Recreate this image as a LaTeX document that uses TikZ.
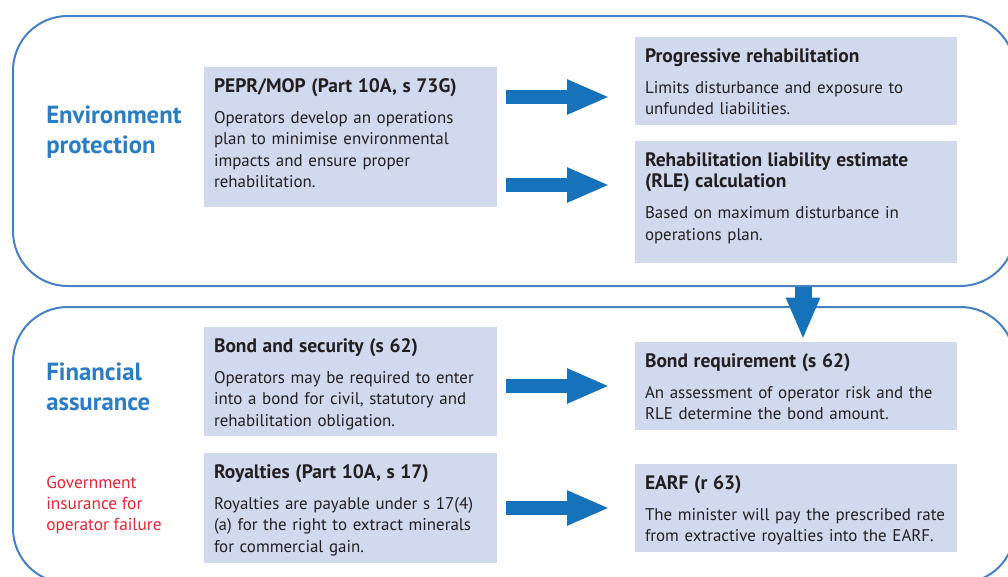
\documentclass[tikz,border=0pt]{standalone}
\usepackage{fontspec}
\setmainfont{PT Sans}
\usetikzlibrary{arrows.meta,positioning,fit,calc}

\definecolor{frameblue}{RGB}{72,128,196}
\definecolor{arrowblue}{RGB}{22,114,186}
\definecolor{labelblue}{RGB}{42,125,196}
\definecolor{alertred}{RGB}{228,38,50}
\definecolor{boxfill}{RGB}{209,217,238}
\definecolor{textgray}{RGB}{35,31,32}

\newcommand{\boxhead}{\bfseries\fontsize{14.6}{17}\selectfont}

\tikzset{
  sectionframe/.style={draw=frameblue, line width=1.5pt, rounded corners=41pt, inner sep=0pt},
  infobox/.style={fill=boxfill, inner sep=0pt},
  infotext/.style={anchor=north west, align=left, text width=215pt,
    inner xsep=7.5pt, inner ysep=8.7pt, text=textgray,
    font=\fontsize{12.7}{16}\selectfont},
  widetext/.style={text width=240pt},
  sidelabel/.style={anchor=north west, inner sep=0pt, align=left, text=labelblue,
    font=\bfseries\fontsize{18.6}{22.5}\selectfont},
  redlabel/.style={anchor=north west, inner sep=0pt, align=left, text=alertred,
    font=\fontsize{13}{15.75}\selectfont},
  bigarrow/.style={draw=arrowblue, line width=10.5pt, -{Triangle[length=32pt, width=24pt]}},
}

\begin{document}
\begin{tikzpicture}[x=0.75pt, y=-0.75pt]
  \useasboundingbox (0,0) rectangle (1008,576);
  \fill[white] (0,0) rectangle (1008,576);
  \clip (0,0) rectangle (1008,576);

  % the two sections
  \node[sectionframe, fit={(13,16) (1015,286)}]  (env) {};
  \node[sectionframe, fit={(13,307) (1015,583)}] (fin) {};

  \node[sidelabel] (env label) at (46,106) {Environment\\protection};
  \node[sidelabel] (fin label) at (46,363) {Financial\\assurance};
  \node[redlabel]  (gov label) at (46,476) {Government\\insurance for\\operator failure};

  % boxes
  \node[infobox, fit={(204,67) (497,207)}]  (pepr)    {};
  \node[infobox, fit={(635,37) (957,125)}]  (prog)    {};
  \node[infobox, fit={(635,141) (957,263)}] (rle)     {};
  \node[infobox, fit={(204,327) (497,436)}] (bond)    {};
  \node[infobox, fit={(204,453) (497,563)}] (royal)   {};
  \node[infobox, fit={(635,342) (957,430)}] (bondreq) {};
  \node[infobox, fit={(635,464) (957,552)}] (earf)    {};

  \node[infotext] (pepr text) at (pepr.north west)
    {{\boxhead PEPR/MOP (Part 10A, s 73G)}\\[7.25pt]
     Operators develop an operations\\plan to minimise environmental\\impacts and ensure proper\\rehabilitation.};
  \node[infotext, widetext] (prog text) at (prog.north west)
    {{\boxhead Progressive rehabilitation}\\[7.25pt]
     Limits disturbance and exposure to\\unfunded liabilities.};
  \node[infotext, widetext] (rle text) at (rle.north west)
    {{\boxhead Rehabilitation liability estimate\\(RLE) calculation}\\[7.25pt]
     Based on maximum disturbance in\\operations plan.};
  \node[infotext] (bond text) at (bond.north west)
    {{\boxhead Bond and security (s 62)}\\[7.25pt]
     Operators may be required to enter\\into a bond for civil, statutory and\\rehabilitation obligation.};
  \node[infotext] (royal text) at (royal.north west)
    {{\boxhead Royalties (Part 10A, s 17)}\\[7.25pt]
     Royalties are payable under s 17(4)\\(a) for the right to extract minerals\\for commercial gain.};
  \node[infotext, widetext] (bondreq text) at (bondreq.north west)
    {{\boxhead Bond requirement (s 62)}\\[7.25pt]
     An assessment of operator risk and the\\RLE determine the bond amount.};
  \node[infotext, widetext] (earf text) at (earf.north west)
    {{\boxhead EARF (r 63)}\\[7.25pt]
     The minister will pay the prescribed rate\\from extractive royalties into the EARF.};

  % arrows
  \draw[bigarrow] ($(pepr.east)+(9,-40)$) -- ($(pepr.east -| prog.west)+(-25,-40)$);
  \draw[bigarrow] ($(pepr.east)+(9,48)$) -- ($(pepr.east -| rle.west)+(-25,48)$);
  \draw[bigarrow] ($(bond.east |- bondreq.west)+(9,0)$) -- ($(bondreq.west)+(-25,0)$);
  \draw[bigarrow] ($(royal.east)+(9,0)$) -- ($(earf.west)+(-25,0)$);
  \draw[bigarrow, line width=12.75pt, -{Triangle[length=31.5pt, width=23.25pt]}]
    ($(env.south -| bondreq.north)+(7,0)$) -- ($(bondreq.north)+(7,-2)$);
\end{tikzpicture}
\end{document}
